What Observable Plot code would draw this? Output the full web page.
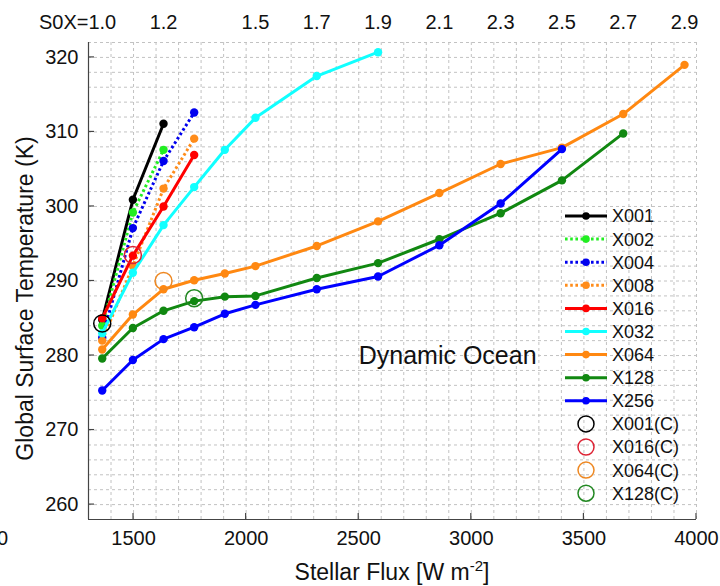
<!DOCTYPE html>
<html><head><meta charset="utf-8">
<script src="https://cdn.jsdelivr.net/npm/d3@7"></script>
<script src="https://cdn.jsdelivr.net/npm/@observablehq/plot@0.6"></script>
<style>
body{margin:0;background:#fff;font-family:"Liberation Sans",Arial,sans-serif;}
#wrap{position:relative;width:720px;height:586px;overflow:hidden;}
</style></head><body><div id="wrap"></div>
<script>
// ---- data ----
const S0 = 1361;
const s0x = [1.0, 1.1, 1.2, 1.3, 1.4, 1.5, 1.7, 1.9, 2.1, 2.3, 2.5, 2.7, 2.9];
const seriesNames = ["X001", "X002", "X004", "X008", "X016", "X032", "X064", "X128", "X256"];
const X001 = [284.8, 300.9, 311.1];
const X002 = [284.0, 299.2, 307.6];
const X004 = [282.4, 297.1, 306.1, 312.6];
const X008 = [282.0, 292.0, 302.4, 309.1];
const X016 = [285.0, 293.4, 300.0, 306.9];
const X032 = [283.0, 291.1, 297.5, 302.6, 307.6, 311.9, 317.5, 320.7];
const X064 = [280.8, 285.5, 288.9, 290.1, 291.0, 292.0, 294.7, 298.0, 301.8, 305.7, 307.9, 312.4, 319.0];
const X128 = [279.6, 283.7, 286.0, 287.3, 287.9, 288.0, 290.4, 292.4, 295.6, 299.1, 303.5, 309.8];
const X256 = [275.3, 279.4, 282.2, 283.8, 285.6, 286.8, 288.9, 290.6, 294.8, 300.4, 307.7];
const seriesValues = [X001, X002, X004, X008, X016, X032, X064, X128, X256];
const seriesColors = ["#000000", "#22ee22", "#0000ee", "#ff8c1a", "#ff0000", "#11ffff", "#ff8811", "#118811", "#0000ff"];
const seriesDotted = [false, true, true, true, false, false, false, false, false];

const ctrlNames = ["X001(C)", "X016(C)", "X064(C)", "X128(C)"];
const ctrlS0x = [1.0, 1.1, 1.2, 1.3];
const ctrlTemp = [284.3, 293.5, 290.0, 287.7];
const ctrlColors = ["#000000", "#dd2233", "#ee8822", "#228822"];

const topTickS0x = [1.0, 1.2, 1.5, 1.7, 1.9, 2.1, 2.3, 2.5, 2.7, 2.9];
const xTicks = [1500, 2000, 2500, 3000, 3500, 4000];
const yTicks = [260, 270, 280, 290, 300, 310, 320];
const annotation = [{flux: 2500, temp: 280, text: "Dynamic Ocean"}];

// ---- tables ----
const rowsFor = (vals) => vals.map((t, i) => ({flux: s0x[i] * S0, temp: t}));
const ctrlRows = ctrlNames.map((n, i) => ({name: n, flux: ctrlS0x[i] * S0, temp: ctrlTemp[i], color: ctrlColors[i]}));

const FONT = "Liberation Sans, Arial, Helvetica, sans-serif";
const DOT = "2.6,2.6";
const marks = [
  Plot.gridX(d3.range(1300, 4001, 100), {stroke: "#c2c2c2", strokeOpacity: 1, strokeDasharray: "3,3"}),
  Plot.gridY(d3.range(258, 323, 2), {stroke: "#c2c2c2", strokeOpacity: 1, strokeDasharray: "3,3"}),
  Plot.ruleX([1300], {stroke: "#444", strokeWidth: 1.2}),
  Plot.ruleY([258], {stroke: "#444", strokeWidth: 1.2}),
  Plot.axisX({ticks: xTicks, tickSize: 0, tickPadding: 11, tickFormat: d => String(d), label: null, fontSize: 20, color: "#111"}),
  Plot.axisY({ticks: yTicks, tickSize: 0, tickPadding: 10, tickFormat: d => String(d), label: null, fontSize: 20, color: "#111"}),
  Plot.text(topTickS0x.slice(1), {x: d => d * S0, text: d => d.toFixed(1), frameAnchor: "top", dy: -14, lineAnchor: "bottom", fontSize: 20, fill: "#111"}),
  Plot.text(topTickS0x.slice(0, 1), {x: d => d * S0, text: d => "S0X=" + d.toFixed(1), frameAnchor: "top", dy: -14, dx: 14, textAnchor: "end", lineAnchor: "bottom", fontSize: 20, fill: "#111"}),
  Plot.text(annotation, {x: "flux", y: "temp", text: "text", textAnchor: "start", fontSize: 25, fill: "#111"})
];
seriesNames.forEach((name, i) => {
  const rows = rowsFor(seriesValues[i]);
  marks.push(Plot.line(rows, {x: "flux", y: "temp", stroke: seriesColors[i], strokeWidth: 3,
    strokeLinecap: seriesDotted[i] ? "butt" : "round",
    strokeDasharray: seriesDotted[i] ? DOT : null}));
  marks.push(Plot.dot(rows, {x: "flux", y: "temp", fill: seriesColors[i], r: 4.2}));
});
marks.push(Plot.dot(ctrlRows, {x: "flux", y: "temp", stroke: "color", r: 8.5, strokeWidth: 1.5, fill: "none"}));

const plot = Plot.plot({
  width: 720, height: 586,
  marginLeft: 88, marginRight: 24, marginTop: 42, marginBottom: 67,
  x: {domain: [1300, 4000]},
  y: {domain: [258, 322]},
  color: {type: "identity"},
  style: {fontFamily: FONT, fontSize: "18px", background: "#fff", overflow: "visible"},
  marks
});
document.getElementById("wrap").appendChild(plot);

// ---- inner ticks, labels and legend drawn with the Plot scales ----
const sx = plot.scale("x").apply, sy = plot.scale("y").apply;
const svg = d3.select(plot);
const x0 = sx(1300), y0 = sy(258);
const g = svg.append("g").attr("stroke", "#444").attr("stroke-width", 1.2);
xTicks.forEach(v => g.append("line").attr("x1", sx(v)).attr("x2", sx(v)).attr("y1", y0).attr("y2", y0 - 6));
yTicks.forEach(v => g.append("line").attr("x1", x0).attr("x2", x0 + 6).attr("y1", sy(v)).attr("y2", sy(v)));

// axis titles
const xl = svg.append("text").attr("x", (sx(1300) + sx(4000)) / 2).attr("y", 580).attr("text-anchor", "middle")
  .attr("font-size", 23).attr("font-family", FONT).attr("fill", "#111");
xl.append("tspan").text("Stellar Flux [W m");
xl.append("tspan").attr("dy", -9).attr("font-size", 15).text("-2");
xl.append("tspan").attr("dy", 9).text("]");
svg.append("text").attr("transform", `translate(27,${(sy(258) + sy(322)) / 2 + 18}) rotate(-90)`)
  .attr("text-anchor", "middle").attr("dominant-baseline", "middle")
  .attr("font-size", 23).attr("font-family", FONT).attr("fill", "#111").text("Global Surface Temperature (K)");
// cropped neighbour label
svg.append("text").attr("x", -3).attr("y", 545).attr("text-anchor", "start").attr("font-size", 20).attr("font-family", FONT).attr("fill", "#111").text("0");

// legend
const lg = svg.append("g").attr("font-family", FONT).attr("font-size", 18).attr("fill", "#111").attr("text-anchor", "start");
const lx0 = 565, lx1 = 607, lmx = 586, ltx = 612, ly = 216, lstep = 23.1;
seriesNames.forEach((name, i) => {
  const y = ly + i * lstep;
  lg.append("line").attr("x1", lx0).attr("x2", lx1).attr("y1", y).attr("y2", y)
    .attr("stroke", seriesColors[i]).attr("stroke-width", 3)
    .attr("stroke-dasharray", seriesDotted[i] ? DOT : null);
  lg.append("circle").attr("cx", lmx).attr("cy", y).attr("r", 3.8).attr("fill", seriesColors[i]);
  lg.append("text").attr("x", ltx).attr("y", y).attr("dy", "0.36em").attr("text-anchor", "start").text(name);
});
ctrlNames.forEach((name, i) => {
  const y = ly + (seriesNames.length + i) * lstep;
  lg.append("circle").attr("cx", lmx).attr("cy", y).attr("r", 8).attr("fill", "none")
    .attr("stroke", ctrlColors[i]).attr("stroke-width", 1.5);
  lg.append("text").attr("x", ltx).attr("y", y).attr("dy", "0.36em").attr("text-anchor", "start").text(name);
});
</script></body></html>
